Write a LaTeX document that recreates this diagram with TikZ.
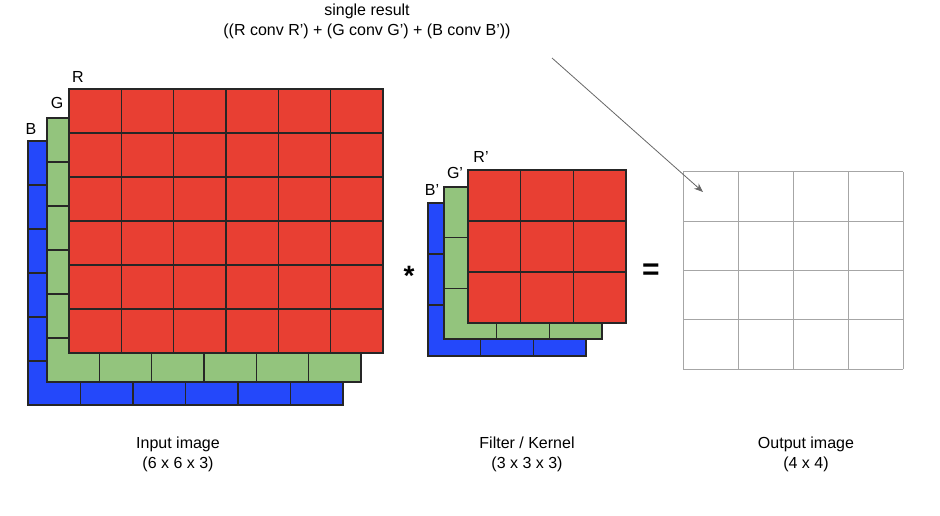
\documentclass[tikz,border=0pt]{standalone}
\usepackage{fontspec}
\setmainfont{Liberation Sans}
\usetikzlibrary{arrows.meta}
\definecolor{cr}{HTML}{E83F33}
\definecolor{cg}{HTML}{93C47D}
\definecolor{cb}{HTML}{2448FA}
\tikzset{lbl/.style={font=\fontsize{16}{19}\selectfont, inner sep=0pt},
 captext/.style={font=\fontsize{16}{20}\selectfont, align=center, inner sep=0pt},
 gridln/.style={draw=black!85, line width=1.3pt}}
\newcommand{\chan}[7]{% x0 y0 x1 y1 nx ny color
 \fill[#7] (#1,#2) rectangle (#3,#4);
 \foreach \i in {1,...,#5} {\draw[gridln] ({#1+(#3-#1)*\i/#5},#2) -- ({#1+(#3-#1)*\i/#5},#4);}
 \foreach \j in {1,...,#6} {\draw[gridln] (#1,{#2+(#4-#2)*\j/#6}) -- (#3,{#2+(#4-#2)*\j/#6});}
 \draw[gridln] (#1,#2) rectangle (#3,#4);}
\begin{document}
\begin{tikzpicture}[x=1pt,y=-1pt]
\useasboundingbox (0,0) rectangle (940,516);
% input
\chan{28}{141}{343}{405}{6}{6}{cb}
\chan{47}{118}{361}{382}{6}{6}{cg}
\chan{69}{89}{383}{353}{6}{6}{cr}
\node[lbl] (lR) at (78,77) {R};
\node[lbl] (lG) at (57,103) {G};
\node[lbl] (lB) at (31,129) {B};
% filter
\chan{428}{203}{586}{356}{3}{3}{cb}
\chan{444}{187}{602}{339}{3}{3}{cg}
\chan{468}{170}{626}{323}{3}{3}{cr}
\node[lbl] (fR) at (481,157) {R’};
\node[lbl] (fG) at (455,173) {G’};
\node[lbl] (fB) at (432,190) {B’};
% output
\foreach \i in {0,...,4} {
 \draw[black!35, line width=1pt] ({683+55*\i},172) -- ({683+55*\i},369);
 \draw[black!35, line width=1pt] (683,{172+49.25*\i}) -- (903,{172+49.25*\i});}
\node[font=\fontsize{28}{28}\selectfont\bfseries, inner sep=0pt] (star) at (409,276) {*};
\node[font=\fontsize{30}{30}\selectfont\bfseries, inner sep=0pt] (eq) at (651,272) {=};
\node[captext] (res) at (367,21) {single result\\((R conv R’) + (G conv G’) + (B conv B’))};
\coordinate (a0) at (552,58);
\coordinate (a1) at (703,192);
\draw[black!60, line width=0.8pt, -{Stealth[length=9pt,width=7pt]}] (a0) -- (a1);
\node[captext] (c1) at (178,454) {Input image\\(6 x 6 x 3)};
\node[captext] (c2) at (527,454) {Filter / Kernel\\(3 x 3 x 3)};
\node[captext] (c3) at (806,454) {Output image\\(4 x 4)};
\end{tikzpicture}
\end{document}
